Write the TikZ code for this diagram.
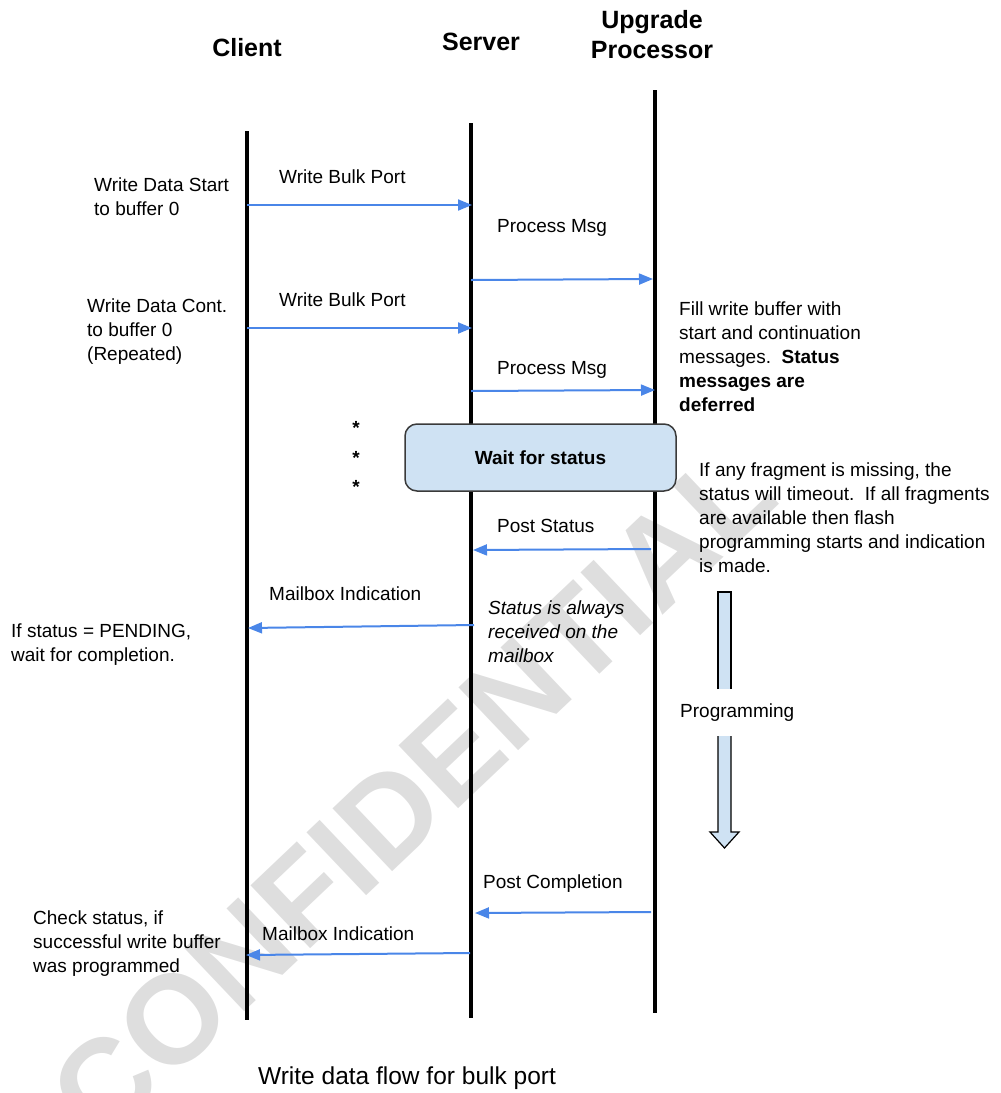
\documentclass[tikz,border=0pt]{standalone}
\usepackage{fontspec}
\setmainfont{Liberation Sans}
\usetikzlibrary{arrows.meta}
\definecolor{msgblue}{HTML}{4A86E8}
\definecolor{paleblue}{HTML}{CFE2F3}
\definecolor{boxedge}{HTML}{3A3A3A}
\definecolor{stamp}{HTML}{DEDEDE}

\begin{document}
\begin{tikzpicture}[x=1pt,y=-1pt,
  lifeline/.style={line width=3.5pt},
  msg/.style={draw=msgblue, line width=2pt, -{Triangle[length=14pt,width=11pt,fill=msgblue]}},
  body/.style={font=\fontsize{19}{24}\selectfont, inner sep=0pt, anchor=west, align=left},
  head/.style={font=\fontsize{25}{30}\selectfont\bfseries, inner sep=0pt, align=center},
  waitbox/.style={draw=boxedge, line width=1.5pt, fill=paleblue, rounded corners=12pt,
    minimum width=271pt, minimum height=67pt, inner sep=0pt,
    font=\fontsize{19}{24}\selectfont\bfseries},
  bigarrow/.style={draw=black, line width=1.2pt, fill=paleblue},
  stampmark/.style={text=stamp, font=\fontsize{126}{126}\selectfont\bfseries, inner sep=0pt}
]
\useasboundingbox (0,0) rectangle (1001,1093);
\clip (0,0) rectangle (1001,1093);

% watermark behind everything
\node[stampmark, rotate=43.5] (stampmark) at (412,793) {CONFIDENTIAL};

% lifeline ends
\coordinate (cTop) at (247,131);  \coordinate (cBot) at (247,1020);
\coordinate (sTop) at (471,123);  \coordinate (sBot) at (471,1018);
\coordinate (pTop) at (655,90);   \coordinate (pBot) at (655,1013);

\draw[lifeline] (cTop) -- (cBot);
\draw[lifeline] (sTop) -- (sBot);
\draw[lifeline] (pTop) -- (pBot);

% headers
\node[head] (hClient) at (247,48) {Client};
\node[head] (hServer) at (481,42) {Server};
\node[head] (hProc) at (652,35) {Upgrade\\Processor};

% message anchors on the lifelines
\coordinate (c1) at (247,205);   \coordinate (s1) at (472,205);
\coordinate (s2) at (471,280);   \coordinate (p2) at (653,279);
\coordinate (c3) at (247,328);   \coordinate (s3) at (472,328);
\coordinate (s4) at (471,391);   \coordinate (p4) at (655,390);
\coordinate (p5) at (651,549);   \coordinate (s5) at (473,550);
\coordinate (s6) at (474,625);   \coordinate (c6) at (248,628);
\coordinate (p7) at (651,912);   \coordinate (s7) at (475,913);
\coordinate (s8) at (470,953);   \coordinate (c8) at (246,955);

% wait box sits over the lifelines
\node[waitbox] (wait) at (540.5,457.5) {Wait for status};

% messages
\draw[msg] (c1) -- (s1);
\draw[msg] (s2) -- (p2);
\draw[msg] (c3) -- (s3);
\draw[msg] (s4) -- (p4);
\draw[msg] (p5) -- (s5);
\draw[msg] (s6) -- (c6);
\draw[msg] (p7) -- (s7);
\draw[msg] (s8) -- (c8);

% message labels
\node[body] (l1) at (279,177) {Write Bulk Port};
\node[body] (l2) at (497,228) {Process Msg};
\node[body] (l3) at (279,300) {Write Bulk Port};
\node[body] (l4) at (497,370) {Process Msg};
\node[body] (l5) at (497,526) {Post Status};
\node[body] (l6) at (269,594) {Mailbox Indication};
\node[body] (l7) at (483,884) {Post Completion};
\node[body] (l8) at (262,934) {Mailbox Indication};

% repetition marks
\node[body, anchor=center, font=\fontsize{19}{24}\selectfont\bfseries] (dot1) at (356,428) {*};
\node[body, anchor=center, font=\fontsize{19}{24}\selectfont\bfseries] (dot2) at (356,458) {*};
\node[body, anchor=center, font=\fontsize{19}{24}\selectfont\bfseries] (dot3) at (356,487) {*};

% client side notes
\node[body] (nStart) at (94,197) {Write Data Start\\to buffer 0};
\node[body] (nCont) at (87,332) {Write Data Cont.\\to buffer 0\\(Repeated)};
\node[body] (nPend) at (11,645) {If status = PENDING,\\wait for completion.};
\node[body] (nCheck) at (33,944) {Check status, if\\successful write buffer\\was programmed};

% server / processor notes
\node[body] (nMail) at (488,632) {\itshape Status is always\\\itshape received on the\\\itshape mailbox};
\node[body] (nFill) at (679,357) {Fill write buffer with\\start and continuation\\messages.\ \ \textbf{Status}\\\textbf{messages are}\\\textbf{deferred}};
\node[body] (nFrag) at (699,518) {If any fragment is missing, the\\status will timeout.\ \ If all fragments\\are available then flash\\programming starts and indication\\is made.};

% programming progress arrow, split by its label
\fill[paleblue] (718,592) rectangle (731,689);
\draw[bigarrow, fill=none] (718,689) -- (718,592) -- (731,592) -- (731,689);
\fill[paleblue] (718,736) -- (718,832) -- (710,832) -- (724.5,848) -- (739,832) -- (731,832) -- (731,736) -- cycle;
\draw[bigarrow, fill=none, line join=miter] (718,736) -- (718,832) -- (710,832) -- (724.5,848) -- (739,832) -- (731,832) -- (731,736);
\node[body] (nProg) at (680,713) {Programming};

% caption
\node[font=\fontsize{24.5}{30}\selectfont, inner sep=0pt] (caption) at (407,1078) {Write data flow for bulk port};
\end{tikzpicture}
\end{document}
